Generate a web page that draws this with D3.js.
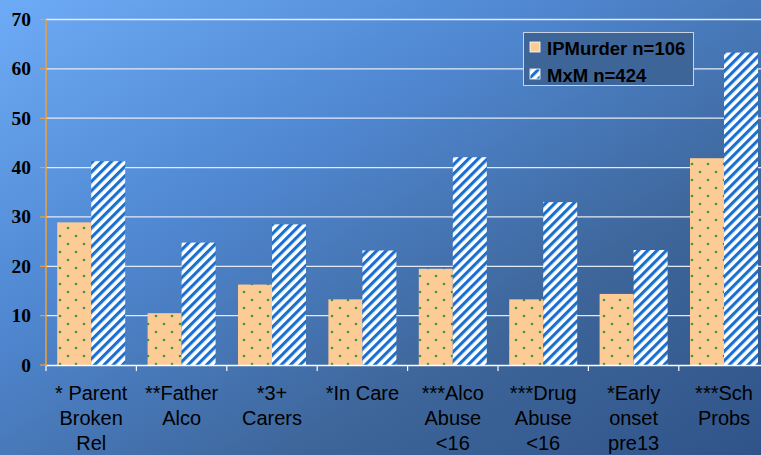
<!DOCTYPE html>
<html><head><meta charset="utf-8">
<script src="https://cdn.jsdelivr.net/npm/d3@7"></script>
<style>html,body{margin:0;padding:0;overflow:hidden;background:#4a78b8}</style>
</head><body>
<svg id="chart" width="761" height="455"></svg>
<script>
const categories = [["* Parent","Broken","Rel"],["**Father","Alco"],["*3+","Carers"],["*In Care"],["***Alco","Abuse","<16"],["***Drug","Abuse","<16"],["*Early","onset","pre13"],["***Sch","Probs"]];
const ipMurder = [28.9, 10.5, 16.3, 13.3, 19.5, 13.3, 14.4, 41.9];
const mxm = [41.3, 24.8, 28.5, 23.2, 42.1, 33.0, 23.3, 63.3];
const seriesNames = ["IPMurder n=106", "MxM n=424"];
const yTicks = [0,10,20,30,40,50,60,70];

const svg = d3.select("#chart");
const W = 761, H = 455;
const defs = svg.append("defs");
const bg = defs.append("linearGradient").attr("id","bg").attr("x1","0").attr("y1","0").attr("x2","1").attr("y2","1");
bg.append("stop").attr("offset","0%").attr("stop-color","#6eabf6");
bg.append("stop").attr("offset","35%").attr("stop-color","#5088d2");
bg.append("stop").attr("offset","70%").attr("stop-color","#3d6599");
bg.append("stop").attr("offset","100%").attr("stop-color","#30548a");
const dots = defs.append("pattern").attr("id","dots").attr("patternUnits","userSpaceOnUse").attr("width",16).attr("height",16);
dots.append("rect").attr("width",16).attr("height",16).attr("fill","#fccb96");
dots.append("circle").attr("cx",4).attr("cy",4).attr("r",1.3).attr("fill","#3a9a3a");
dots.append("circle").attr("cx",12).attr("cy",12).attr("r",1.3).attr("fill","#3a9a3a");
const stripes = defs.append("pattern").attr("id","stripes").attr("patternUnits","userSpaceOnUse").attr("width",6.6).attr("height",10).attr("patternTransform","rotate(45)");
stripes.append("rect").attr("width",6.6).attr("height",10).attr("fill","#ffffff");
stripes.append("rect").attr("width",3.1).attr("height",10).attr("fill","#1a6fd0");

svg.append("rect").attr("width",W).attr("height",H).attr("fill","url(#bg)");

const x0 = 46, bandW = 90.4;
const x = d3.scaleBand().domain(d3.range(categories.length)).range([x0, x0 + bandW*categories.length]).paddingInner(0).paddingOuter(0);
const y = d3.scaleLinear().domain([0,70]).range([365,19.5]);

// gridlines
svg.append("g").selectAll("line").data(yTicks.filter(d=>d>0)).join("line")
  .attr("x1",x0).attr("x2",W).attr("y1",d=>y(d)).attr("y2",d=>y(d))
  .attr("stroke","#e4ebf6").attr("stroke-width",1.3);

// bars
const bw = 34;
const g = svg.append("g");
g.selectAll("rect.ip").data(ipMurder).join("rect").attr("class","ip")
  .attr("x",(d,i)=>x(i)+x.bandwidth()/2-bw).attr("width",bw)
  .attr("y",d=>y(d)).attr("height",d=>y(0)-y(d)).attr("fill","url(#dots)");
g.selectAll("rect.mx").data(mxm).join("rect").attr("class","mx")
  .attr("x",(d,i)=>x(i)+x.bandwidth()/2).attr("width",bw)
  .attr("y",d=>y(d)).attr("height",d=>y(0)-y(d)).attr("fill","url(#stripes)");

// x axis
const xa = svg.append("g");
xa.append("line").attr("x1",x0).attr("x2",W).attr("y1",365.5).attr("y2",365.5).attr("stroke","#ffffff").attr("stroke-width",1.5);
xa.selectAll("line.t").data(d3.range(categories.length)).join("line").attr("class","t")
  .attr("x1",i=>x(i)).attr("x2",i=>x(i)).attr("y1",365).attr("y2",371).attr("stroke","#ffffff").attr("stroke-width",1.2);
const lbl = xa.selectAll("text").data(categories).join("text")
  .attr("x",(d,i)=>x(i)+x.bandwidth()/2).attr("y",400)
  .attr("text-anchor","middle").attr("font-family","Liberation Sans, Arial, sans-serif").attr("font-size",20).attr("fill","#000");
lbl.selectAll("tspan").data(d=>d).join("tspan")
  .attr("x",function(){return this.parentNode.getAttribute("x");})
  .attr("dy",(d,i)=>i===0?0:25).text(d=>d);

// y axis
const ya = svg.append("g");
ya.append("line").attr("x1",46).attr("x2",46).attr("y1",y(70)).attr("y2",366).attr("stroke","#f0a030").attr("stroke-width",1.5);
ya.selectAll("line.t").data(yTicks).join("line").attr("class","t")
  .attr("x1",40).attr("x2",46).attr("y1",d=>y(d)).attr("y2",d=>y(d)).attr("stroke","#f0a030").attr("stroke-width",1.2);
ya.selectAll("text").data(yTicks).join("text")
  .attr("x",31).attr("y",d=>y(d)+6.5).attr("text-anchor","end")
  .attr("font-family","Liberation Serif, Times New Roman, serif").attr("font-weight","bold").attr("font-size",19.5).attr("fill","#000")
  .text(d=>d);

// legend
const lg = svg.append("g");
lg.append("rect").attr("x",523.5).attr("y",32.5).attr("width",170).attr("height",53)
  .attr("fill","#3e6598").attr("stroke","#c8d4e4").attr("stroke-width",1);
const lgItems = lg.selectAll("g").data(seriesNames).join("g").attr("transform",(d,i)=>`translate(0,${i*27})`);
lgItems.append("rect").attr("x",530).attr("y",42).attr("width",10).attr("height",10).attr("fill",(d,i)=>i===0?"#fccb96":"url(#stripes)").attr("stroke","#ffffff").attr("stroke-width",0.8);
lgItems.append("text").attr("x",547).attr("y",54.5).attr("font-family","Liberation Sans, Arial, sans-serif").attr("font-weight","bold").attr("font-size",18.5).attr("fill","#000").text(d=>d);
</script>
</body></html>
